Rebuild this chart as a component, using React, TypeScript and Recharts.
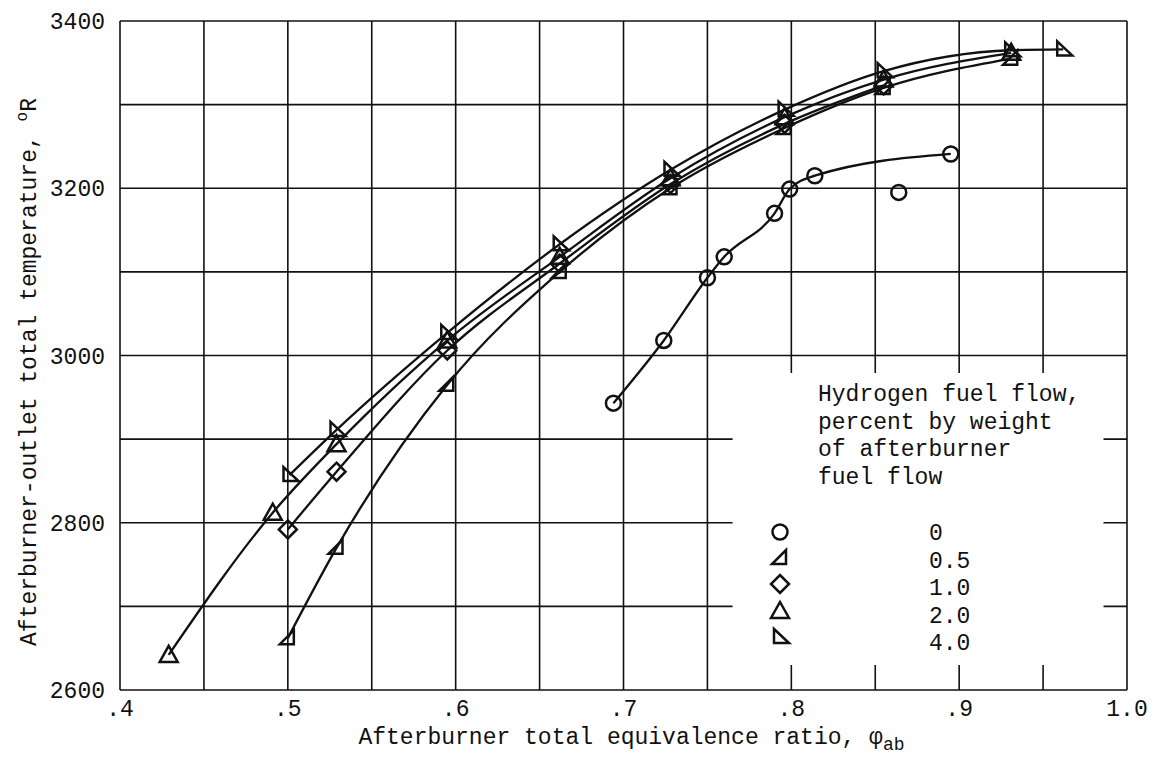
import { ComposedChart, Line, Scatter, XAxis, YAxis, CartesianGrid, ReferenceArea } from 'recharts';

const FONT = '"Liberation Mono", "DejaVu Sans Mono", monospace';
const INK = '#111';

// hydrogen fuel flow, percent by weight of afterburner fuel flow
const H0 = [
  { x: 0.694, y: 2943 },
  { x: 0.724, y: 3018 },
  { x: 0.75, y: 3093 },
  { x: 0.76, y: 3118 },
  { x: 0.79, y: 3170 },
  { x: 0.799, y: 3199 },
  { x: 0.814, y: 3215 },
  { x: 0.895, y: 3241 },
];
const H0_STRAY = [{ x: 0.864, y: 3195 }];
const H05 = [
  { x: 0.5, y: 2662 },
  { x: 0.529, y: 2770 },
  { x: 0.595, y: 2965 },
  { x: 0.662, y: 3100 },
  { x: 0.728, y: 3200 },
  { x: 0.796, y: 3272 },
  { x: 0.855, y: 3320 },
  { x: 0.931, y: 3355 },
];
const H1 = [
  { x: 0.5, y: 2792 },
  { x: 0.529, y: 2861 },
  { x: 0.595, y: 3006 },
  { x: 0.662, y: 3110 },
  { x: 0.728, y: 3205 },
  { x: 0.796, y: 3277 },
  { x: 0.855, y: 3323 },
];
const H2 = [
  { x: 0.429, y: 2642 },
  { x: 0.491, y: 2812 },
  { x: 0.529, y: 2894 },
  { x: 0.595, y: 3018 },
  { x: 0.662, y: 3118 },
  { x: 0.728, y: 3212 },
  { x: 0.796, y: 3285 },
  { x: 0.855, y: 3330 },
  { x: 0.931, y: 3362 },
];
const H4 = [
  { x: 0.501, y: 2857 },
  { x: 0.529, y: 2911 },
  { x: 0.595, y: 3027 },
  { x: 0.662, y: 3133 },
  { x: 0.728, y: 3222 },
  { x: 0.796, y: 3294 },
  { x: 0.855, y: 3340 },
  { x: 0.931, y: 3365 },
  { x: 0.962, y: 3366 },
];

const X_TICKS = [0.4, 0.45, 0.5, 0.55, 0.6, 0.65, 0.7, 0.75, 0.8, 0.85, 0.9, 0.95, 1.0];
const X_LABELS: Record<string, string> = { '0.4': '.4', '0.5': '.5', '0.6': '.6', '0.7': '.7', '0.8': '.8', '0.9': '.9', '1': '1.0' };
const Y_TICKS = [2600, 2700, 2800, 2900, 3000, 3100, 3200, 3300, 3400];
const Y_LABELS = ['2600', '2800', '3000', '3200', '3400'];

const LEGEND_TITLE = ['Hydrogen fuel flow,', 'percent by weight', 'of afterburner', 'fuel flow'];
const LEGEND_ITEMS = [
  { kind: 'circle', label: '0' },
  { kind: 'halfTri', label: '0.5' },
  { kind: 'diamond', label: '1.0' },
  { kind: 'triangle', label: '2.0' },
  { kind: 'rightTri', label: '4.0' },
];

function Marker({ kind, cx, cy }: { kind: string; cx: number; cy: number }) {
  const common = { fill: 'none', stroke: INK, strokeWidth: 2.5, strokeLinejoin: 'miter' as const };
  if (kind === 'circle') return <circle cx={cx} cy={cy} r={7.5} {...common} />;
  let pts = '';
  if (kind === 'halfTri') pts = `${cx - 8},${cy + 6} ${cx + 6},${cy + 6} ${cx + 6},${cy - 8}`;
  if (kind === 'diamond') pts = `${cx},${cy - 9} ${cx + 9},${cy} ${cx},${cy + 9} ${cx - 9},${cy}`;
  if (kind === 'triangle') pts = `${cx},${cy - 9} ${cx + 9},${cy + 7} ${cx - 9},${cy + 7}`;
  if (kind === 'rightTri') pts = `${cx - 6},${cy - 8} ${cx - 6},${cy + 6} ${cx + 9},${cy + 6}`;
  return <polygon points={pts} {...common} />;
}

const dotOf = (kind: string) => (p: any) => <Marker key={`${kind}-${p.index}`} kind={kind} cx={p.cx} cy={p.cy} />;

function XTitle({ viewBox }: any) {
  const cx = viewBox.x + viewBox.width / 2 + 8;
  return (
    <text x={cx} y={viewBox.y + 54} textAnchor="middle" fontFamily={FONT} fontSize={23} fill={INK}>
      Afterburner total equivalence ratio, φ
      <tspan fontSize={18} dy={6}>ab</tspan>
    </text>
  );
}

function YTitle() {
  const x = 36;
  const y = 372;
  return (
    <text x={x} y={y} transform={`rotate(-90 ${x} ${y})`} textAnchor="middle" fontFamily={FONT} fontSize={23} fill={INK}>
      Afterburner-outlet total temperature,{' '}
      <tspan fontSize={16} dy={-9}>o</tspan>
      <tspan dy={9}>R</tspan>
    </text>
  );
}

function LegendBox() {
  return (
    <div style={{ position: 'absolute', left: 0, top: 0, pointerEvents: 'none', fontFamily: FONT, color: INK }}>
      {LEGEND_TITLE.map((t, i) => (
        <div key={t} style={{ position: 'absolute', left: 818, top: 381 + i * 27.7, fontSize: 23, lineHeight: '28px', whiteSpace: 'pre' }}>
          {t}
        </div>
      ))}
      {LEGEND_ITEMS.map((it, i) => (
        <div key={it.label}>
          <svg style={{ position: 'absolute', left: 760, top: 512 + i * 26.2 }} width={40} height={40}>
            <Marker kind={it.kind} cx={20} cy={20} />
          </svg>
          <div style={{ position: 'absolute', left: 929, top: 520 + i * 27.6, fontSize: 23, lineHeight: '28px' }}>
            {it.label}
          </div>
        </div>
      ))}
    </div>
  );
}

export default function App() {
  return (
    <div style={{ position: 'absolute', left: 0, top: 0, width: 1164, height: 757, background: '#fff' }}>
      <ComposedChart width={1164} height={757} margin={{ top: 21, right: 37, bottom: 0, left: 0 }}>
        <CartesianGrid stroke={INK} strokeWidth={1.6} />
        <XAxis
          type="number"
          dataKey="x"
          domain={[0.4, 1.0]}
          ticks={X_TICKS}
          tickFormatter={(v: number) => X_LABELS[String(+v.toFixed(2))] ?? ''}
          tick={{ fill: INK, fontSize: 23, fontFamily: FONT }}
          tickLine={false}
          axisLine={false}
          tickSize={6}
          tickMargin={4}
          height={67}
          allowDataOverflow
          label={{ content: XTitle }}
        />
        <YAxis
          type="number"
          dataKey="y"
          domain={[2600, 3400]}
          ticks={Y_TICKS}
          tickFormatter={(v: number) => (Y_LABELS.includes(String(v)) ? String(v) : '')}
          tick={{ fill: INK, fontSize: 23, fontFamily: FONT }}
          tickLine={false}
          axisLine={false}
          tickSize={6}
          tickMargin={9}
          width={120}
          allowDataOverflow
          label={{ content: YTitle }}
        />
        <ReferenceArea x1={0.765} x2={0.986} y1={2630} y2={2979} fill="#fff" fillOpacity={1} stroke="none" ifOverflow="visible" />
        <Line data={H0} dataKey="y" type="monotone" stroke={INK} strokeWidth={2.3} dot={dotOf('circle')} isAnimationActive={false} />
        <Line data={H05} dataKey="y" type="monotone" stroke={INK} strokeWidth={2.3} dot={dotOf('halfTri')} isAnimationActive={false} />
        <Line data={H1} dataKey="y" type="monotone" stroke={INK} strokeWidth={2.3} dot={dotOf('diamond')} isAnimationActive={false} />
        <Line data={H2} dataKey="y" type="monotone" stroke={INK} strokeWidth={2.3} dot={dotOf('triangle')} isAnimationActive={false} />
        <Line data={H4} dataKey="y" type="monotone" stroke={INK} strokeWidth={2.3} dot={dotOf('rightTri')} isAnimationActive={false} />
        <Scatter data={H0_STRAY} dataKey="y" shape={(p: any) => <Marker kind="circle" cx={p.cx} cy={p.cy} />} isAnimationActive={false} />
      </ComposedChart>
      <LegendBox />
    </div>
  );
}
